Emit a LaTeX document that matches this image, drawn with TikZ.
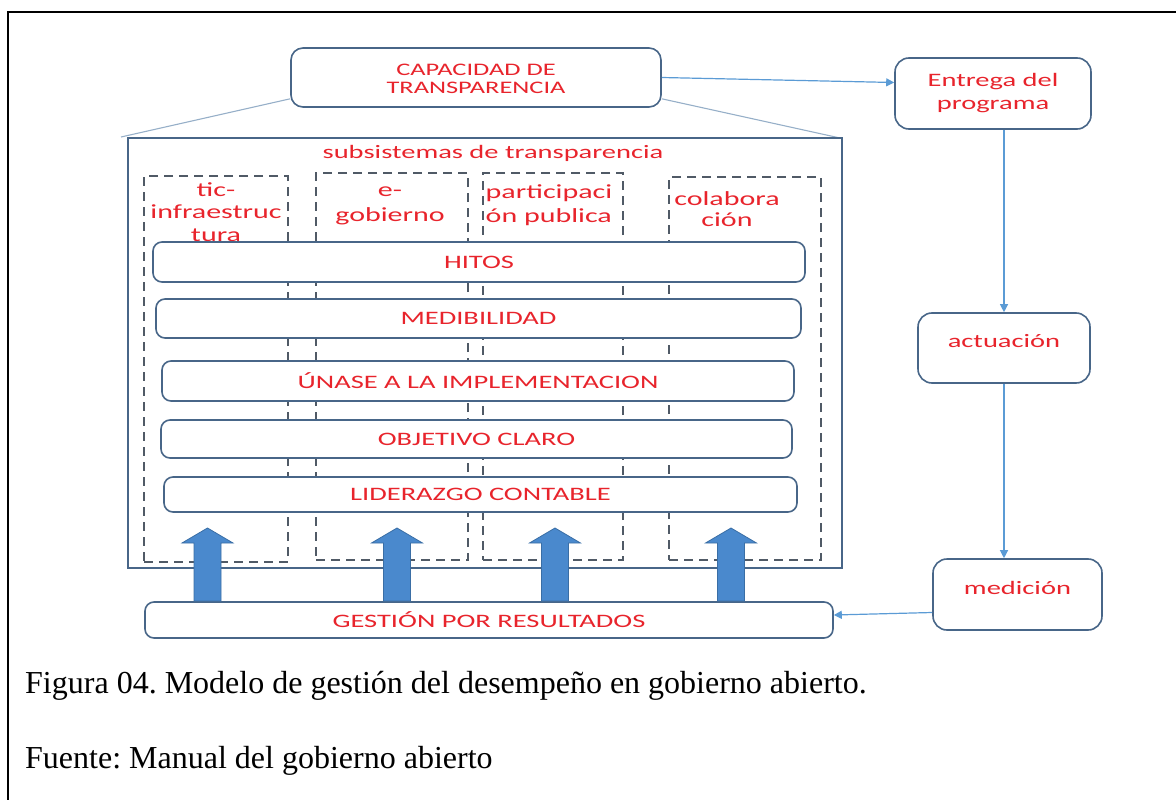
\documentclass[tikz,border=0pt]{standalone}
\usepackage{fontspec}
\setmainfont{Liberation Serif}
\newfontfamily\dfont[FakeStretch=1.5]{Carlito}
\usetikzlibrary{arrows.meta,calc}
\definecolor{boxblue}{RGB}{72,102,136}
\definecolor{dashgray}{RGB}{80,90,102}
\definecolor{lineblue}{RGB}{91,155,213}
\definecolor{fanblue}{RGB}{150,175,200}
\definecolor{blkblue}{RGB}{74,137,205}
\definecolor{blkedge}{RGB}{58,110,165}
\definecolor{txtred}{RGB}{232,36,44}
\frenchspacing
\begin{document}
\begin{tikzpicture}[x=1pt,y=-1pt,
  box/.style={draw=boxblue, line width=1.6pt, rounded corners=12pt, fill=white,
    inner sep=0pt, text=txtred, align=center, font=\dfont\fontsize{19}{23}\selectfont},
  bar/.style={box, rounded corners=9pt},
  colbox/.style={draw=dashgray, line width=1.4pt, dash pattern=on 9pt off 6pt, inner sep=0pt},
  lbl/.style={text=txtred, align=center, inner sep=0pt, font=\dfont\fontsize{20}{23}\selectfont},
  flow/.style={draw=lineblue, line width=1.2pt, -{Triangle[length=8pt,width=8pt]}},
  fan/.style={draw=fanblue, line width=1.1pt},
  blk/.style={fill=blkblue, draw=blkedge, line width=0.8pt},
  capt/.style={anchor=base west, inner sep=0pt, font=\fontsize{32}{36}\selectfont}
]
\useasboundingbox (0,0) rectangle (1176,800);
% frame
\draw[line width=1.6pt] (8,800) -- (8,12) -- (1176,12);

% top box
\node[box, font=\dfont\fontsize{17.6}{18}\selectfont, minimum width=370pt, minimum height=59pt] (cap) at (476,77.5) {\raisebox{-3pt}[13pt][4pt]{CAPACIDAD DE}\\\raisebox{-3pt}[13pt][4pt]{TRANSPARENCIA}};
\coordinate (fl) at (121,137);
\coordinate (fr) at (840,138);
\draw[fan] ([yshift=9pt]cap.south west) -- (fl);
\draw[fan] ([yshift=9pt]cap.south east) -- (fr);

% subsystem box
\node[draw=boxblue, line width=1.6pt, inner sep=0pt, minimum width=714pt, minimum height=430pt] (sub) at (485,353) {};
\node[lbl, font=\dfont\fontsize{19}{23}\selectfont] (subt) at (493,153) {subsistemas de transparencia};

% columns
\node[colbox, minimum width=144pt, minimum height=386pt] (c1) at (216,369) {};
\node[colbox, minimum width=152pt, minimum height=387pt] (c2) at (392,366.5) {};
\node[colbox, minimum width=140pt, minimum height=387pt] (c3) at (553,366.5) {};
\node[colbox, minimum width=152pt, minimum height=383pt] (c4) at (745,368.5) {};
\node[lbl, font=\dfont\fontsize{20}{22.5}\selectfont] (c1t) at (216,212) {tic-\\infraestruc\\tura};
\node[lbl, font=\dfont\fontsize{20}{25}\selectfont] (c2t) at (390,205.5) {e-\\gobierno};
\node[lbl, align=left, font=\dfont\fontsize{20}{24}\selectfont] (c3t) at (549,205) {participaci\\ón publica};
\node[lbl, font=\dfont\fontsize{20}{21}\selectfont] (c4t) at (727,209.5) {colabora\\ción};

% bars
\node[bar, minimum width=652pt, minimum height=40pt] (h1) at (479,262) {HITOS};
\node[bar, minimum width=645pt, minimum height=39pt] (h2) at (478.5,318.5) {MEDIBILIDAD};
\node[bar, minimum width=632pt, minimum height=40pt] (h3) at (478,381) {ÚNASE A LA IMPLEMENTACION};
\node[bar, minimum width=631pt, minimum height=38pt] (h4) at (476.5,439) {OBJETIVO CLARO};
\node[bar, minimum width=633pt, minimum height=35pt] (h5) at (480.5,494.5) {LIDERAZGO CONTABLE};

% bottom box
\node[bar, minimum width=688pt, minimum height=36pt] (gest) at (489,620) {GESTIÓN POR RESULTADOS};

% block arrows
\foreach \cx in {207.5,397,555,731}
  \filldraw[blk] (\cx-13.5,601) -- (\cx-13.5,543) -- (\cx-25.5,543) -- (\cx,528)
     -- (\cx+25.5,543) -- (\cx+13.5,543) -- (\cx+13.5,601) -- cycle;

% right column
\node[box, rounded corners=14pt, minimum width=196pt, minimum height=71pt] (ent) at (993,93.5) {Entrega del\\programa};
\node[box, rounded corners=14pt, minimum width=172pt, minimum height=70pt] (act) at (1004,348) {\raisebox{5pt}[13pt][4pt]{actuación}};
\node[box, rounded corners=14pt, minimum width=169pt, minimum height=71pt] (med) at (1017.5,594.5) {\raisebox{5pt}[13pt][4pt]{medición}};

\draw[flow] (cap.east) -- ([yshift=11pt]ent.west);
\draw[flow] (act.north |- ent.south) -- (act.north);
\draw[flow] (act.south) -- (act.south |- med.north);
\draw[flow] ([yshift=-18pt]med.west) -- ([yshift=5pt]gest.east);

% caption
\node[capt] (fig) at (25,693) {Figura 04. Modelo de gestión del desempeño en gobierno abierto.};
\node[capt] (src) at (25,768) {Fuente: Manual del gobierno abierto};
\end{tikzpicture}
\end{document}
